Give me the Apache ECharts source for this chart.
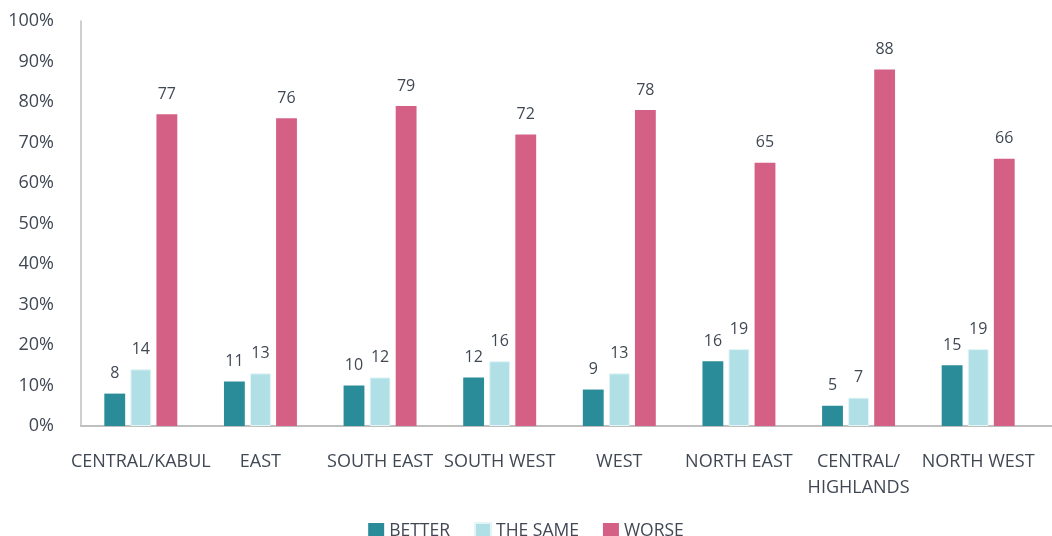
<!DOCTYPE html>
<html>
<head>
<meta charset="utf-8">
<script src="https://cdn.jsdelivr.net/npm/echarts@6/dist/echarts.min.js"></script>
<style>
  html, body { margin: 0; padding: 0; background: #fff; }
  #chart { width: 1052px; height: 536px; }
</style>
</head>
<body>
<div id="chart"></div>
<script>
const categories = ["CENTRAL/KABUL", "EAST", "SOUTH EAST", "SOUTH WEST", "WEST", "NORTH EAST", "CENTRAL/\nHIGHLANDS", "NORTH WEST"];
const better = [8, 11, 10, 12, 9, 16, 5, 15];
const theSame = [14, 13, 12, 16, 13, 19, 7, 19];
const worse = [77, 76, 79, 72, 78, 65, 88, 66];
const yTicks = [0, 10, 20, 30, 40, 50, 60, 70, 80, 90, 100];

(() => {
  let myChart = echarts.init(document.querySelector("#chart"));
  const font = "Open Sans";
  const textColor = "#404854";
  const label = {
    show: true,
    position: "top",
    distance: 12,
    color: textColor,
    fontFamily: font,
    fontSize: 16,
  };
  let option = {
    animation: false,
    legend: {
      top: 517,
      left: "center",
      itemWidth: 16,
      itemHeight: 16,
      itemGap: 24,
      icon: "rect",
      textStyle: { color: textColor, fontFamily: font, fontSize: 17.5 },
    },
    grid: { left: 81, right: 14, top: 21, bottom: 110 },
    // the baseline runs on to the right edge in the original
    graphic: [
      {
        type: "line",
        shape: { x1: 1037, y1: 426, x2: 1052, y2: 426 },
        style: { stroke: "#bfbfbf", lineWidth: 2 },
      },
    ],
    xAxis: {
      type: "category",
      data: categories,
      axisLine: { lineStyle: { color: "#bfbfbf", width: 2 } },
      axisTick: { show: false },
      axisLabel: {
        color: textColor,
        fontFamily: font,
        fontSize: 18,
        margin: 23,
        lineHeight: 26,
        interval: 0,
      },
    },
    yAxis: {
      type: "value",
      min: yTicks[0],
      max: yTicks[yTicks.length - 1],
      interval: 10,
      axisLine: { show: true, lineStyle: { color: "#bfbfbf", width: 1.5 } },
      axisTick: { show: false },
      splitLine: { show: false },
      axisLabel: {
        color: textColor,
        fontFamily: font,
        fontSize: 18,
        margin: 27,
        formatter: "{value}%",
      },
    },
    series: [
      {
        name: "BETTER",
        type: "bar",
        data: better,
        barGap: "25%",
        barCategoryGap: "39%",
        itemStyle: { color: "#2a8c99" },
        label: label,
      },
      {
        name: "THE SAME",
        type: "bar",
        data: theSame,
        itemStyle: { color: "#b0e0e6", borderColor: "#e3f5f7", borderWidth: 1 },
        label: label,
      },
      {
        name: "WORSE",
        type: "bar",
        data: worse,
        itemStyle: { color: "#d46185" },
        label: label,
      },
    ],
  };
  myChart.setOption(option);
  window.addEventListener("resize", () => {
    myChart.resize();
  });
})();
</script>
</body>
</html>
